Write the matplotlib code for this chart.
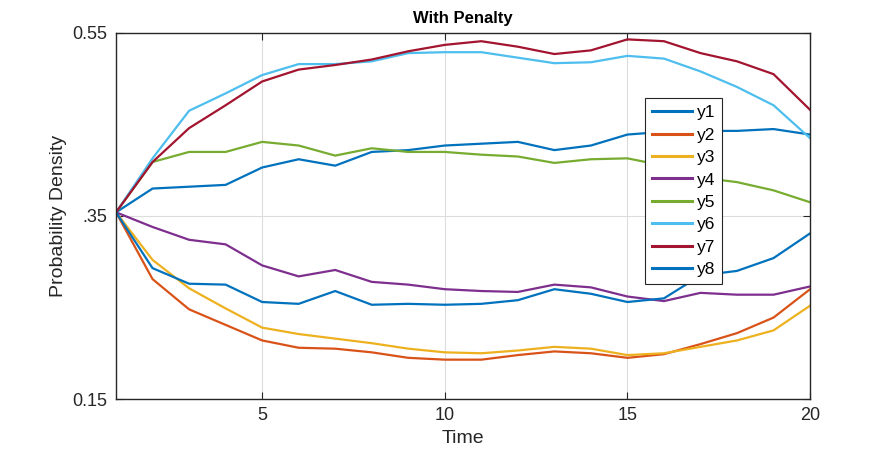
import numpy as np
import matplotlib.pyplot as plt

# ---------------------------------------------------------
# Data
# ---------------------------------------------------------
t = np.arange(1, 21)

y1 = [0.354, 0.380, 0.382, 0.384, 0.403, 0.412, 0.405, 0.420, 0.422, 0.427,
      0.429, 0.431, 0.422, 0.427, 0.439, 0.442, 0.443, 0.443, 0.445, 0.439]
y2 = [0.354, 0.281, 0.248, 0.231, 0.214, 0.206, 0.205, 0.201, 0.195, 0.193,
      0.193, 0.198, 0.202, 0.200, 0.195, 0.199, 0.210, 0.222, 0.239, 0.270]
y3 = [0.354, 0.302, 0.271, 0.249, 0.228, 0.221, 0.216, 0.211, 0.205, 0.201,
      0.200, 0.203, 0.207, 0.205, 0.198, 0.200, 0.207, 0.214, 0.225, 0.252]
y4 = [0.354, 0.338, 0.324, 0.319, 0.296, 0.284, 0.291, 0.278, 0.275, 0.270,
      0.268, 0.267, 0.275, 0.272, 0.262, 0.257, 0.266, 0.264, 0.264, 0.273]
y5 = [0.354, 0.409, 0.420, 0.420, 0.431, 0.427, 0.416, 0.424, 0.420, 0.420,
      0.417, 0.415, 0.408, 0.412, 0.413, 0.405, 0.392, 0.387, 0.378, 0.365]
y6 = [0.354, 0.413, 0.465, 0.484, 0.504, 0.516, 0.516, 0.519, 0.528, 0.529,
      0.529, 0.523, 0.517, 0.518, 0.525, 0.522, 0.508, 0.491, 0.471, 0.435]
y7 = [0.354, 0.409, 0.446, 0.471, 0.497, 0.510, 0.515, 0.521, 0.530, 0.537,
      0.541, 0.535, 0.527, 0.531, 0.543, 0.541, 0.528, 0.519, 0.505, 0.466]
y8 = [0.354, 0.293, 0.276, 0.275, 0.256, 0.254, 0.268, 0.253, 0.254, 0.253,
      0.254, 0.258, 0.270, 0.265, 0.256, 0.260, 0.285, 0.290, 0.304, 0.331]

series = [y1, y2, y3, y4, y5, y6, y7, y8]
names = ['y1', 'y2', 'y3', 'y4', 'y5', 'y6', 'y7', 'y8']

# MATLAB default colour order (wraps after 7)
colors = ['#0072BD', '#D95319', '#EDB120', '#7E2F8E',
          '#77AC30', '#4DBEEE', '#A2142F']

yticks = [0.15, 0.35, 0.55]
ytick_labels = ['0.15', '.35', '0.55']
xticks = [5, 10, 15, 20]

# ---------------------------------------------------------
# Rendering
# ---------------------------------------------------------
plt.rcParams['font.family'] = ['Liberation Sans', 'DejaVu Sans']

fig = plt.figure(figsize=(8.96, 4.58), dpi=100)
ax = fig.add_axes([0.1295, 0.1288, 0.7746, 0.7992])

for i, s in enumerate(series):
    ax.plot(t, s, color=colors[i % len(colors)], linewidth=1.6, label=names[i])

ax.set_xlim(1, 20)
ax.set_ylim(0.15, 0.55)
ax.set_xticks(xticks)
ax.set_yticks(yticks)
ax.set_yticklabels(ytick_labels)

ax.grid(True, color='#dcdcdc', linewidth=0.8)
ax.set_axisbelow(True)
ax.tick_params(direction='in', top=True, right=True, length=5,
               labelsize=13, colors='#262626', pad=6)
for sp in ax.spines.values():
    sp.set_color('#262626')
    sp.set_linewidth(1.0)

ax.set_title('With Penalty', fontsize=12, fontweight='bold', pad=7)
ax.set_xlabel('Time', fontsize=14, color='#262626')
ax.set_ylabel('Probability Density', fontsize=14, color='#262626')

leg = ax.legend(loc='upper left', bbox_to_anchor=(0.762, 0.822),
                fontsize=12.5, handlelength=2.3, handletextpad=0.3,
                labelspacing=0.42, borderpad=0.4, fancybox=False,
                framealpha=1, edgecolor='#262626', borderaxespad=0)
leg.get_frame().set_linewidth(0.8)
for line in leg.get_lines():
    line.set_linewidth(2.2)

plt.savefig('out.png', dpi=100)
